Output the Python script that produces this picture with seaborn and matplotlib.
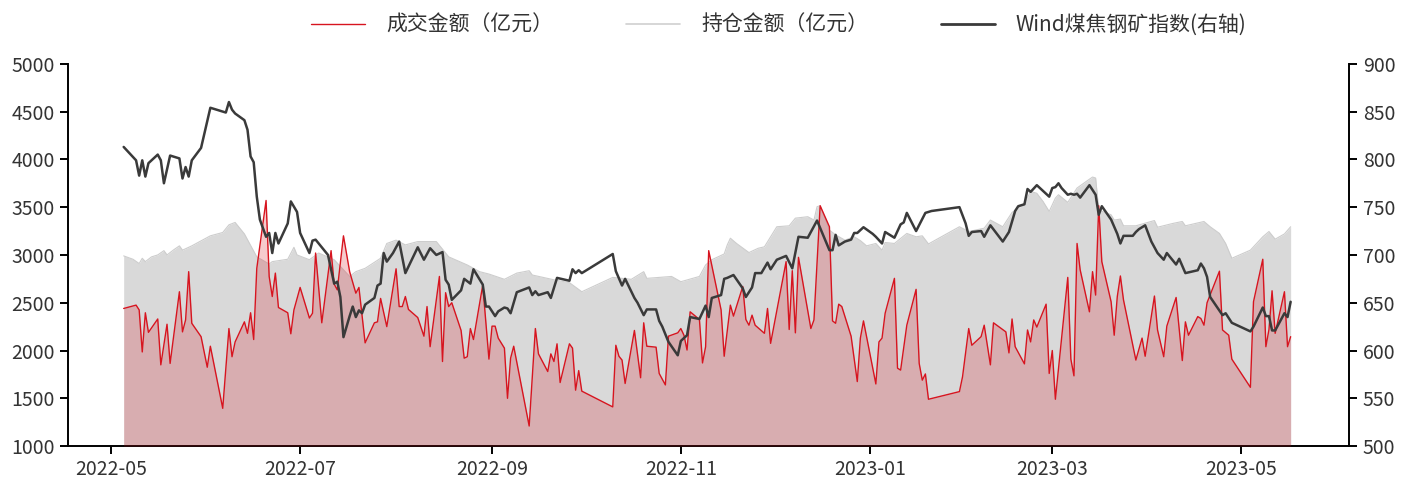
import matplotlib
matplotlib.use('Agg')
import matplotlib.pyplot as plt
import matplotlib.dates as mdates
from matplotlib.lines import Line2D
import seaborn as sns
import pandas as pd

sns.set_theme(style='ticks')
plt.rcParams['font.family'] = ['Noto Sans CJK SC', 'DejaVu Sans']
plt.rcParams['axes.unicode_minus'] = False

# 成交金额（亿元）
red_dates = [
    '2022-05-05', '2022-05-09', '2022-05-10', '2022-05-11', '2022-05-12', '2022-05-13', '2022-05-16', '2022-05-17',
    '2022-05-19', '2022-05-20', '2022-05-23', '2022-05-24', '2022-05-25', '2022-05-26', '2022-05-27', '2022-05-30',
    '2022-06-01', '2022-06-02', '2022-06-06', '2022-06-08', '2022-06-09', '2022-06-10', '2022-06-13', '2022-06-14',
    '2022-06-15', '2022-06-16', '2022-06-17', '2022-06-20', '2022-06-21', '2022-06-22', '2022-06-23', '2022-06-24',
    '2022-06-27', '2022-06-28', '2022-06-29', '2022-07-01', '2022-07-04', '2022-07-05', '2022-07-06', '2022-07-08',
    '2022-07-11', '2022-07-12', '2022-07-13', '2022-07-15', '2022-07-17', '2022-07-19', '2022-07-20', '2022-07-22',
    '2022-07-25', '2022-07-26', '2022-07-27', '2022-07-29', '2022-08-01', '2022-08-02', '2022-08-03', '2022-08-04',
    '2022-08-05', '2022-08-08', '2022-08-10', '2022-08-11', '2022-08-12', '2022-08-15', '2022-08-16', '2022-08-17',
    '2022-08-18', '2022-08-19', '2022-08-22', '2022-08-23', '2022-08-24', '2022-08-25', '2022-08-26', '2022-08-29',
    '2022-08-31', '2022-09-01', '2022-09-02', '2022-09-03', '2022-09-05', '2022-09-06', '2022-09-07', '2022-09-08',
    '2022-09-13', '2022-09-15', '2022-09-16', '2022-09-19', '2022-09-20', '2022-09-21', '2022-09-22', '2022-09-23',
    '2022-09-26', '2022-09-27', '2022-09-28', '2022-09-29', '2022-09-30', '2022-10-10', '2022-10-11', '2022-10-12',
    '2022-10-13', '2022-10-14', '2022-10-17', '2022-10-19', '2022-10-20', '2022-10-21', '2022-10-24', '2022-10-25',
    '2022-10-27', '2022-10-28', '2022-10-31', '2022-11-01', '2022-11-02', '2022-11-03', '2022-11-04', '2022-11-07',
    '2022-11-08', '2022-11-09', '2022-11-10', '2022-11-14', '2022-11-15', '2022-11-17', '2022-11-18', '2022-11-21',
    '2022-11-22', '2022-11-23', '2022-11-24', '2022-11-25', '2022-11-28', '2022-11-29', '2022-11-30', '2022-12-05',
    '2022-12-06', '2022-12-07', '2022-12-08', '2022-12-09', '2022-12-13', '2022-12-14', '2022-12-16', '2022-12-19',
    '2022-12-20', '2022-12-21', '2022-12-22', '2022-12-23', '2022-12-26', '2022-12-28', '2022-12-29', '2022-12-30',
    '2023-01-03', '2023-01-04', '2023-01-05', '2023-01-06', '2023-01-09', '2023-01-10', '2023-01-11', '2023-01-13',
    '2023-01-16', '2023-01-17', '2023-01-18', '2023-01-19', '2023-01-20', '2023-01-30', '2023-01-31', '2023-02-02',
    '2023-02-03', '2023-02-06', '2023-02-07', '2023-02-09', '2023-02-10', '2023-02-14', '2023-02-15', '2023-02-16',
    '2023-02-17', '2023-02-20', '2023-02-21', '2023-02-22', '2023-02-23', '2023-02-24', '2023-02-27', '2023-02-28',
    '2023-03-01', '2023-03-02', '2023-03-06', '2023-03-07', '2023-03-08', '2023-03-09', '2023-03-10', '2023-03-13',
    '2023-03-14', '2023-03-15', '2023-03-16', '2023-03-17', '2023-03-20', '2023-03-21', '2023-03-22', '2023-03-23',
    '2023-03-24', '2023-03-28', '2023-03-30', '2023-03-31', '2023-04-03', '2023-04-04', '2023-04-06', '2023-04-07',
    '2023-04-10', '2023-04-12', '2023-04-13', '2023-04-14', '2023-04-17', '2023-04-18', '2023-04-19', '2023-04-20',
    '2023-04-24', '2023-04-25', '2023-04-27', '2023-04-28', '2023-05-04', '2023-05-05', '2023-05-08', '2023-05-09',
    '2023-05-10', '2023-05-11', '2023-05-12', '2023-05-15', '2023-05-16', '2023-05-17',
]
red_vals = [
    2440, 2475, 2425, 1985, 2395, 2190, 2330, 1850,
    2275, 1865, 2615, 2195, 2320, 2825, 2285, 2145,
    1825, 2045, 1395, 2230, 1935, 2090, 2300, 2180,
    2395, 2115, 2860, 3570, 2775, 2565, 2810, 2450,
    2395, 2175, 2425, 2660, 2340, 2390, 3020, 2290,
    3045, 2695, 2635, 3200, 2825, 2600, 2660, 2080,
    2290, 2300, 2545, 2250, 2855, 2460, 2460, 2565,
    2430, 2345, 2150, 2460, 2040, 2775, 1885, 2605,
    2460, 2500, 2210, 1920, 1935, 2230, 2115, 2685,
    1910, 2255, 2255, 2130, 2025, 1500, 1920, 2045,
    1210, 2230, 1965, 1780, 1965, 1885, 2070, 1665,
    2070, 2025, 1585, 1790, 1575, 1410, 2055, 1940,
    1900, 1655, 2210, 1715, 2290, 2045, 2035, 1760,
    1640, 2150, 2185, 2230, 2160, 2005, 2405, 2325,
    1870, 2040, 3045, 2425, 1940, 2475, 2360, 2670,
    2325, 2265, 2370, 2265, 2180, 2440, 2075, 2930,
    2220, 2835, 2185, 2975, 2230, 2320, 3515, 3295,
    2310, 2285, 2485, 2460, 2150, 1675, 2130, 2310,
    1650, 2090, 2130, 2390, 2755, 1815, 1795, 2265,
    2640, 1865, 1690, 1755, 1490, 1570, 1725, 2230,
    2055, 2145, 2265, 1850, 2290, 2195, 1975, 2330,
    2040, 1860, 2215, 2090, 2320, 2245, 2485, 1760,
    2000, 1490, 2765, 1910, 1735, 3120, 2845, 2405,
    2825, 2580, 3515, 2930, 2510, 2160, 2565, 2780,
    2530, 1900, 2130, 1940, 2570, 2215, 1935, 2255,
    2555, 1895, 2300, 2160, 2355, 2335, 2265, 2500,
    2830, 2215, 2160, 1910, 1615, 2510, 2955, 2040,
    2220, 2625, 2180, 2615, 2040, 2145,
]

# 持仓金额（亿元）
oi_dates = [
    '2022-05-05', '2022-05-08', '2022-05-10', '2022-05-11', '2022-05-12', '2022-05-14', '2022-05-16', '2022-05-18',
    '2022-05-19', '2022-05-21', '2022-05-23', '2022-05-24', '2022-05-27', '2022-06-02', '2022-06-06', '2022-06-08',
    '2022-06-10', '2022-06-13', '2022-06-17', '2022-06-21', '2022-06-22', '2022-06-27', '2022-06-29', '2022-06-30',
    '2022-07-04', '2022-07-07', '2022-07-12', '2022-07-17', '2022-07-19', '2022-07-22', '2022-07-27', '2022-07-29',
    '2022-08-01', '2022-08-04', '2022-08-08', '2022-08-14', '2022-08-18', '2022-08-24', '2022-08-28', '2022-08-31',
    '2022-09-05', '2022-09-09', '2022-09-13', '2022-09-14', '2022-09-21', '2022-09-26', '2022-09-30', '2022-10-10',
    '2022-10-16', '2022-10-20', '2022-10-21', '2022-10-29', '2022-11-01', '2022-11-07', '2022-11-09', '2022-11-11',
    '2022-11-15', '2022-11-16', '2022-11-17', '2022-11-19', '2022-11-23', '2022-11-26', '2022-11-28', '2022-11-30',
    '2022-12-02', '2022-12-06', '2022-12-08', '2022-12-12', '2022-12-14', '2022-12-15', '2022-12-16', '2022-12-19',
    '2022-12-21', '2022-12-24', '2022-12-27', '2022-12-29', '2022-12-31', '2023-01-03', '2023-01-05', '2023-01-06',
    '2023-01-09', '2023-01-13', '2023-01-16', '2023-01-18', '2023-01-20', '2023-01-30', '2023-02-02', '2023-02-07',
    '2023-02-09', '2023-02-13', '2023-02-16', '2023-02-20', '2023-02-22', '2023-02-24', '2023-02-26', '2023-02-28',
    '2023-03-02', '2023-03-03', '2023-03-06', '2023-03-09', '2023-03-12', '2023-03-14', '2023-03-15', '2023-03-16',
    '2023-03-20', '2023-03-21', '2023-03-23', '2023-03-24', '2023-03-28', '2023-04-03', '2023-04-04', '2023-04-09',
    '2023-04-12', '2023-04-13', '2023-04-19', '2023-04-21', '2023-04-24', '2023-04-26', '2023-04-28', '2023-05-04',
    '2023-05-08', '2023-05-10', '2023-05-12', '2023-05-15', '2023-05-17',
]
oi_vals = [
    2990, 2955, 2910, 2965, 2930, 2980, 3000, 3045,
    3000, 3050, 3095, 3050, 3095, 3200, 3235, 3315,
    3340, 3220, 2980, 2905, 2930, 2955, 3080, 3000,
    2950, 3020, 2950, 2775, 2825, 2860, 2965, 3120,
    3155, 3105, 3140, 3140, 2980, 2895, 2825, 2800,
    2745, 2810, 2835, 2790, 2740, 2710, 2615, 2765,
    2745, 2825, 2755, 2775, 2720, 2775, 2895, 2950,
    3010, 3105, 3175, 3120, 3025, 3070, 3085, 3190,
    3295, 3305, 3385, 3400, 3365, 3505, 3515, 3260,
    3210, 3155, 3190, 3150, 3095, 3120, 3050, 3130,
    3120, 3225, 3190, 3200, 3115, 3295, 3245, 3280,
    3365, 3295, 3445, 3535, 3665, 3645, 3560, 3455,
    3595, 3630, 3550, 3700, 3770, 3815, 3805, 3470,
    3420, 3365, 3375, 3305, 3305, 3360, 3290, 3330,
    3350, 3305, 3350, 3295, 3225, 3120, 2965, 3050,
    3190, 3245, 3165, 3220, 3295,
]

# Wind煤焦钢矿指数（右轴）
idx_dates = [
    '2022-05-05', '2022-05-09', '2022-05-10', '2022-05-11', '2022-05-12', '2022-05-13', '2022-05-16', '2022-05-17',
    '2022-05-18', '2022-05-20', '2022-05-23', '2022-05-24', '2022-05-25', '2022-05-26', '2022-05-27', '2022-05-30',
    '2022-06-02', '2022-06-07', '2022-06-08', '2022-06-09', '2022-06-10', '2022-06-13', '2022-06-14', '2022-06-15',
    '2022-06-16', '2022-06-17', '2022-06-18', '2022-06-20', '2022-06-21', '2022-06-22', '2022-06-23', '2022-06-24',
    '2022-06-27', '2022-06-28', '2022-06-30', '2022-07-01', '2022-07-04', '2022-07-05', '2022-07-06', '2022-07-07',
    '2022-07-10', '2022-07-12', '2022-07-13', '2022-07-14', '2022-07-15', '2022-07-17', '2022-07-18', '2022-07-19',
    '2022-07-20', '2022-07-21', '2022-07-22', '2022-07-25', '2022-07-26', '2022-07-27', '2022-07-28', '2022-07-29',
    '2022-07-31', '2022-08-02', '2022-08-04', '2022-08-08', '2022-08-10', '2022-08-12', '2022-08-14', '2022-08-16',
    '2022-08-17', '2022-08-18', '2022-08-19', '2022-08-22', '2022-08-23', '2022-08-25', '2022-08-26', '2022-08-29',
    '2022-08-30', '2022-08-31', '2022-09-02', '2022-09-03', '2022-09-05', '2022-09-06', '2022-09-07', '2022-09-09',
    '2022-09-13', '2022-09-14', '2022-09-15', '2022-09-16', '2022-09-19', '2022-09-20', '2022-09-22', '2022-09-26',
    '2022-09-27', '2022-09-28', '2022-09-29', '2022-09-30', '2022-10-10', '2022-10-11', '2022-10-13', '2022-10-14',
    '2022-10-17', '2022-10-18', '2022-10-20', '2022-10-21', '2022-10-24', '2022-10-25', '2022-10-26', '2022-10-28',
    '2022-10-31', '2022-11-01', '2022-11-02', '2022-11-03', '2022-11-04', '2022-11-07', '2022-11-09', '2022-11-10',
    '2022-11-11', '2022-11-14', '2022-11-15', '2022-11-16', '2022-11-18', '2022-11-21', '2022-11-22', '2022-11-24',
    '2022-11-25', '2022-11-27', '2022-11-29', '2022-11-30', '2022-12-02', '2022-12-05', '2022-12-07', '2022-12-09',
    '2022-12-12', '2022-12-15', '2022-12-19', '2022-12-20', '2022-12-21', '2022-12-22', '2022-12-24', '2022-12-26',
    '2022-12-27', '2022-12-28', '2022-12-30', '2023-01-02', '2023-01-03', '2023-01-05', '2023-01-06', '2023-01-09',
    '2023-01-11', '2023-01-12', '2023-01-13', '2023-01-16', '2023-01-19', '2023-01-21', '2023-01-30', '2023-02-01',
    '2023-02-02', '2023-02-03', '2023-02-06', '2023-02-07', '2023-02-09', '2023-02-13', '2023-02-15', '2023-02-17',
    '2023-02-18', '2023-02-20', '2023-02-21', '2023-02-22', '2023-02-24', '2023-02-26', '2023-02-28', '2023-03-01',
    '2023-03-02', '2023-03-03', '2023-03-04', '2023-03-06', '2023-03-07', '2023-03-08', '2023-03-09', '2023-03-10',
    '2023-03-13', '2023-03-15', '2023-03-16', '2023-03-17', '2023-03-20', '2023-03-22', '2023-03-23', '2023-03-24',
    '2023-03-27', '2023-03-28', '2023-03-29', '2023-03-31', '2023-04-02', '2023-04-04', '2023-04-06', '2023-04-07',
    '2023-04-10', '2023-04-11', '2023-04-13', '2023-04-17', '2023-04-18', '2023-04-19', '2023-04-20', '2023-04-21',
    '2023-04-25', '2023-04-26', '2023-04-28', '2023-05-04', '2023-05-05', '2023-05-08', '2023-05-09', '2023-05-10',
    '2023-05-11', '2023-05-12', '2023-05-15', '2023-05-16', '2023-05-17',
]
idx_vals = [
    813, 799, 783, 799, 782, 796, 805, 799,
    775, 804, 801, 780, 792, 782, 799, 812,
    854, 849, 860, 852, 848, 841, 831, 803,
    797, 761, 737, 719, 723, 702, 723, 712,
    733, 756, 745, 723, 702, 715, 716, 712,
    700, 670, 672, 656, 614, 636, 646, 635,
    642, 639, 648, 655, 668, 670, 702, 693,
    702, 714, 681, 708, 695, 707, 700, 703,
    674, 669, 653, 663, 675, 670, 685, 669,
    646, 646, 636, 641, 645, 644, 639, 661,
    666, 658, 662, 658, 661, 655, 676, 673,
    685, 681, 684, 681, 701, 683, 668, 675,
    655, 650, 637, 643, 643, 631, 625, 609,
    595, 610, 613, 616, 635, 633, 647, 635,
    655, 658, 675, 676, 679, 665, 656, 666,
    681, 681, 692, 685, 695, 699, 686, 719,
    718, 736, 705, 705, 721, 710, 714, 716,
    723, 723, 729, 722, 719, 712, 724, 718,
    732, 734, 744, 725, 744, 746, 750, 733,
    720, 724, 725, 719, 731, 714, 724, 746,
    751, 753, 769, 766, 773, 767, 761, 770,
    771, 775, 770, 763, 764, 763, 764, 760,
    773, 763, 742, 751, 737, 722, 712, 720,
    720, 724, 727, 731, 714, 702, 695, 702,
    690, 696, 681, 684, 691, 686, 677, 656,
    637, 639, 629, 620, 625, 645, 636, 636,
    621, 621, 639, 635, 651,
]

red_dt = pd.to_datetime(red_dates)
oi_dt = pd.to_datetime(oi_dates)
idx_dt = pd.to_datetime(idx_dates)

RED = '#d7141f'
GREY = '#d9d9d9'
DARK = '#3a3a3a'
TXT = '#333333'

fig = plt.figure(figsize=(14.16, 4.87), dpi=100)
ax = fig.add_axes([0.048, 0.084, 0.905, 0.785])

# open interest area
ax.fill_between(oi_dt, 1000, oi_vals, color=GREY, lw=0, zorder=1)
sns.lineplot(x=oi_dt, y=oi_vals, color='#cdcdcd', lw=0.8, ax=ax, zorder=2)

# turnover area + line
ax.fill_between(red_dt, 1000, red_vals, color=RED, alpha=0.22, lw=0, zorder=3)
sns.lineplot(x=red_dt, y=red_vals, color=RED, lw=1.0, ax=ax, zorder=4)

ax.set_ylim(1000, 5000)
ax.set_yticks(range(1000, 5001, 500))
ax.set_xlim(pd.Timestamp('2022-04-17'), pd.Timestamp('2023-06-05'))
ax.xaxis.set_major_locator(mdates.MonthLocator(bymonth=[1, 3, 5, 7, 9, 11]))
ax.xaxis.set_major_formatter(mdates.DateFormatter('%Y-%m'))
ax.set_xlabel('')
ax.set_ylabel('')

ax2 = ax.twinx()
sns.lineplot(x=idx_dt, y=idx_vals, color=DARK, lw=1.8, ax=ax2)
ax2.set_ylim(500, 900)
ax2.set_yticks(range(500, 901, 50))
ax2.set_ylabel('')

for a in (ax, ax2):
    a.spines['top'].set_visible(False)
    for s in a.spines.values():
        s.set_linewidth(1.4)
        s.set_color('black')
    a.tick_params(axis='both', direction='out', length=6, width=1.4, labelsize=14,
                  color='black', labelcolor=TXT)
ax2.spines['left'].set_visible(False)
ax2.spines['bottom'].set_visible(False)
ax.spines['right'].set_visible(False)

handles = [
    Line2D([], [], color=RED, lw=1.0),
    Line2D([], [], color='#d0d0d0', lw=1.2),
    Line2D([], [], color=DARK, lw=2.0),
]
labels = ['成交金额（亿元）', '持仓金额（亿元）', 'Wind煤焦钢矿指数(右轴)']
leg = fig.legend(handles, labels, loc='upper center', bbox_to_anchor=(0.55, 1.01), ncol=3,
                 frameon=False, fontsize=15, handlelength=2.6, columnspacing=3.5, handletextpad=1.0)
for t in leg.get_texts():
    t.set_color(TXT)

fig.savefig('out.png', dpi=100)
